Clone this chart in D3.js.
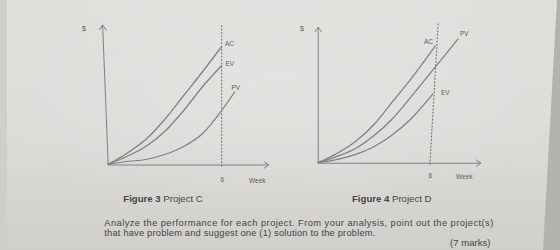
<!DOCTYPE html>
<html><head><meta charset="utf-8">
<script src="https://cdn.jsdelivr.net/npm/d3@7"></script>
<style>
html,body{margin:0;padding:0;background:#d7d6d3;}
svg{display:block;font-family:"Liberation Sans",Arial,sans-serif;}
</style></head>
<body>
<svg id="c" width="560" height="250"></svg>
<script>
// ---- data (weeks, $ in arbitrary units) ----
const weeks = [0,1,2,3,4,5,6];
// Project C
const cAC = [0,11,25,45,69,93,118];
const cEV = [0,8,18,33,54,78,99];
const cPV = [0,3,5,10,18,31,54];
const cPVendWeek = 6.7, cPVendVal = 73;
// Project D
const dAC = [0,9,21,38,61,84];
const dACendWeek = 6.3, dACendVal = 117;
const dPV = [0,6,14,27,44,66,89];
const dPVendWeek = 7.52, dPVendVal = 124;
const dEV = [0,3,8,16,28,44];
const dEVendWeek = 6.17, dEVendVal = 69;
const xTickLabels = [6];
const curveLabels = ["AC","EV","PV"];
const captions = ["Figure 3", "Figure 4"];
const captionNames = ["Project C", "Project D"];
const para = ["Analyze the performance for each project. From your analysis, point out the project(s)",
              "that have problem and suggest one (1) solution to the problem."];
const paraWidths = [389, 271];
const marks = "(7 marks)";

const svg = d3.select("#c");
const defs = svg.append("defs");
const g1 = defs.append("linearGradient").attr("id","bg").attr("x1",0).attr("y1",0).attr("x2",0).attr("y2",1);
g1.append("stop").attr("offset","0%").attr("stop-color","#e0dfdc");
g1.append("stop").attr("offset","55%").attr("stop-color","#dcdbd8");
g1.append("stop").attr("offset","100%").attr("stop-color","#d0cfcb");
const g2 = defs.append("radialGradient").attr("id","glow").attr("cx","50%").attr("cy","35%").attr("r","55%");
g2.append("stop").attr("offset","0%").attr("stop-color","#ffffff").attr("stop-opacity",0.18);
g2.append("stop").attr("offset","100%").attr("stop-color","#ffffff").attr("stop-opacity",0);
svg.append("rect").attr("width",560).attr("height",250).attr("fill","url(#bg)");
svg.append("rect").attr("width",560).attr("height",250).attr("fill","url(#glow)");
// left/right page edges of the photo
svg.append("polygon").attr("points","557,0 560,0 560,250 543,250").attr("fill","#b3b2ae");
svg.append("rect").attr("x",0).attr("y",0).attr("width",7).attr("height",250).attr("fill","#cfcecb");

defs.append("marker").attr("id","arr").attr("viewBox","-6 -4 7 8").attr("refX",0).attr("refY",0)
  .attr("markerWidth",7).attr("markerHeight",8).attr("markerUnits","userSpaceOnUse").attr("orient","auto")
  .append("path").attr("d","M-5,-3.5L0,0L-5,3.5").attr("fill","none").attr("stroke","#808080").attr("stroke-width",1);

const lineCol = "#808080", textCol = "#5e5e5e";

function drawChart(opt){
  const x = d3.scaleLinear().domain([0, opt.xMax]).range([opt.x0, opt.x0 + opt.xMax*opt.pxWeek]);
  const y = d3.scaleLinear().domain([0, opt.yMax]).range([opt.y0, opt.y0 - opt.yMax*opt.pxUnit]);
  const g = svg.append("g");
  // x axis
  const xa = g.append("g").attr("transform",`translate(0,${opt.y0})`)
    .call(d3.axisBottom(x).tickValues(xTickLabels).tickSize(0).tickSizeOuter(0).tickPadding(opt.tickPad).tickFormat(d3.format("d")));
  xa.select(".domain").attr("stroke",lineCol).attr("stroke-width",1).attr("marker-end","url(#arr)");
  xa.selectAll("text").attr("fill",textCol).attr("font-size",6.5).attr("font-family","Liberation Sans, Arial");
  // y axis
  const ya = g.append("g").attr("transform",`translate(${opt.x0 - opt.yLean*opt.y0},0) skewX(${Math.atan(opt.yLean)*180/Math.PI})`)
    .call(d3.axisLeft(y).tickValues([]).tickSizeOuter(0));
  ya.select(".domain").attr("stroke",lineCol).attr("stroke-width",1).attr("marker-end","url(#arr)");
  // dashed week 6 line
  g.append("line").attr("x1",x(6)).attr("y1",opt.y0+2).attr("x2",x(6)+opt.dashLean).attr("y2",opt.y0-140)
    .attr("stroke","#707070").attr("stroke-width",1).attr("stroke-dasharray","2,1.4");
  // curves
  const line = d3.line().x(d=>x(d[0])).y(d=>y(d[1])).curve(d3.curveMonotoneX);
  opt.series.forEach(s=>{
    g.append("path").datum(s.pts).attr("d",line).attr("fill","none")
      .attr("stroke",lineCol).attr("stroke-width",1.25);
    g.append("text").attr("x",s.lx).attr("y",s.ly).text(s.name)
      .attr("fill",textCol).attr("font-size",6.5);
  });
  g.append("text").attr("x",opt.dollarX).attr("y",31).text("$").attr("fill",textCol).attr("font-size",7);
  g.append("text").attr("x",opt.weekX).attr("y",opt.weekY).text("Week").attr("fill",textCol).attr("font-size",6.5);
  return {x,y};
}

const zipW = (vals) => vals.map((v,i)=>[weeks[i], v]);

drawChart({
  x0:107.7, y0:164.5, pxWeek:19, pxUnit:1, xMax:8.45, yMax:140, tickPad:13, yLean:0.04, dashLean:0,
  dollarX:82, weekX:249, weekY:182.5,
  series:[
    {name:curveLabels[0], pts:zipW(cAC), lx:225, ly:45.5},
    {name:curveLabels[1], pts:zipW(cEV), lx:225.5, ly:66},
    {name:curveLabels[2], pts:zipW(cPV).concat([[cPVendWeek,cPVendVal]]), lx:231.5, ly:90}
  ]
});
drawChart({
  x0:317.7, y0:162.7, pxWeek:18.7, pxUnit:1, xMax:8.7, yMax:136, tickPad:11, yLean:0, dashLean:8.3,
  dollarX:300, weekX:456, weekY:178.5,
  series:[
    {name:curveLabels[0], pts:zipW(dAC).concat([[dACendWeek,dACendVal]]), lx:424, ly:43.5},
    {name:curveLabels[2], pts:zipW(dPV).concat([[dPVendWeek,dPVendVal]]), lx:460, ly:35.5},
    {name:curveLabels[1], pts:zipW(dEV).concat([[dEVendWeek,dEVendVal]]), lx:441, ly:94.5}
  ]
});

// captions
const capCol = "#454545";
[[123.3,201.5],[352,201.5]].forEach((p,i)=>{
  const t = svg.append("text").attr("x",p[0]).attr("y",p[1]).attr("font-size",9.6).attr("fill",capCol);
  t.append("tspan").attr("font-weight","bold").text(captions[i]);
  t.append("tspan").text(" " + captionNames[i]);
});
para.forEach((s,i)=>{
  svg.append("text").attr("x",104.3).attr("y",225.5+i*10).attr("font-size",9.3).attr("fill",capCol)
    .attr("textLength",paraWidths[i]).attr("lengthAdjust","spacing").text(s);
});
svg.append("text").attr("x",490.5).attr("y",245.5).attr("text-anchor","end").attr("font-size",9.6).attr("fill",capCol).text(marks);
</script>
</body></html>
